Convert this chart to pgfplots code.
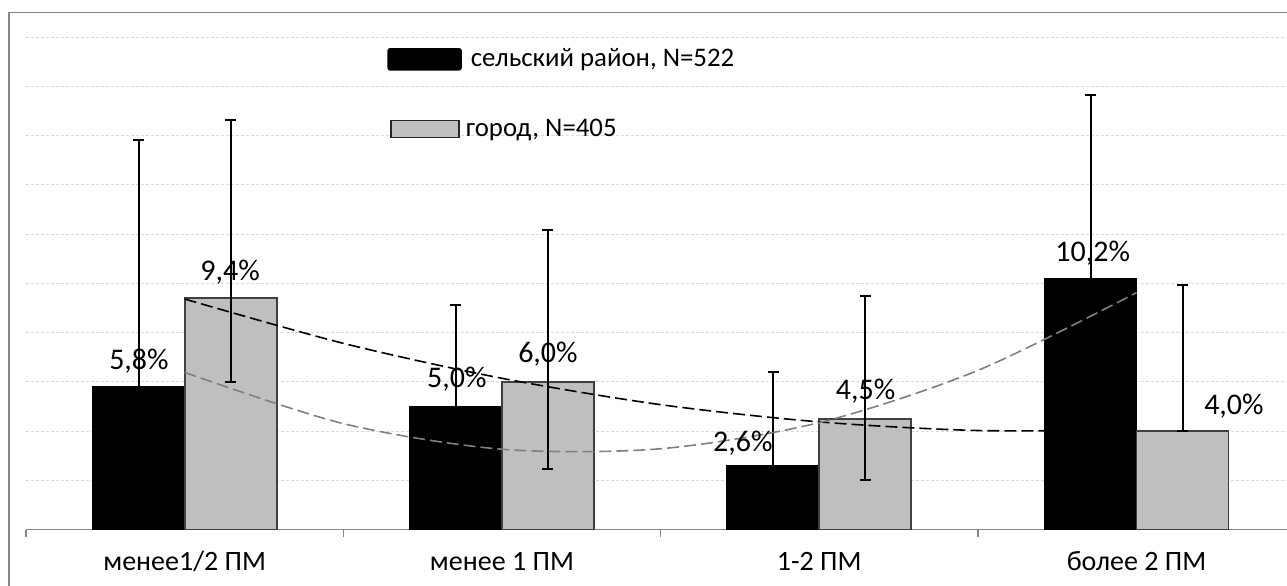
\documentclass[border=0pt]{standalone}
\usepackage{fontspec}
\setmainfont{Carlito}
\usepackage{pgfplots}
\pgfplotsset{compat=1.18}
\usepackage{pgfplotstable}

\definecolor{barGray}{HTML}{BFBFBF}
\definecolor{barEdge}{HTML}{404040}
\definecolor{gridc}{HTML}{D9D9D9}
\definecolor{axisc}{HTML}{868686}
\definecolor{trendGray}{HTML}{808080}

% rural (сельский район): bar x, value, error plus, error minus
\pgfplotstableread{
x y ep em
-0.145 5.8 10.0 3.0
0.855 5.0 4.13 2.5
1.855 2.6 3.81 1.5
2.855 10.2 7.46 4.0
}\rural
% city (город)
\pgfplotstableread{
x y ep em
0.145 9.4 7.22 3.39
1.145 6.0 6.17 3.55
2.145 4.5 4.99 2.49
3.145 4.0 5.93 0
}\city
% value labels (positions as placed in the chart)
\pgfplotstableread{
x y lab
-0.144 6.85 5,8\%
0.143 10.43 9,4\%
0.858 6.12 5,0\%
1.145 7.11 6,0\%
1.759 3.52 2,6\%
2.146 5.62 4,5\%
2.862 11.24 10,2\%
3.307 5.02 4,0\%
}\labels

\begin{document}
\begin{tikzpicture}
\path[use as bounding box] (0pt,0pt) rectangle (643.5pt,292.5pt);
\clip (0pt,0pt) rectangle (643.5pt,292.5pt);
\draw[axisc, line width=0.75pt] (4.5pt,-20pt) -- (4.5pt,286.15pt) -- (700pt,286.15pt);
\begin{axis}[
  at={(13pt,27.75pt)}, anchor=south west,
  scale only axis, width=634.6pt, height=246.25pt,
  xmin=-0.5, xmax=3.5, ymin=0, ymax=20,
  axis x line*=bottom, axis y line*=left,
  x axis line style={axisc, line width=0.75pt},
  y axis line style={draw=none},
  ytick={0,2,...,20}, yticklabels={}, ytick style={draw=none},
  ymajorgrids, grid style={gridc, line width=0.5pt, dash pattern=on 1.5pt off 1pt},
  xtick={0,1,2,3},
  xticklabels={менее1/2 ПМ, менее 1 ПМ, 1-2 ПМ, более 2 ПМ},
  minor xtick={-0.5,0.5,1.5,2.5,3.5},
  major tick length=0pt, minor tick length=3.5pt,
  xtick align=outside, tick pos=lower,
  minor tick style={axisc, line width=0.75pt},
  xticklabel style={anchor=base, yshift=-20.25pt, font=\fontsize{14}{16}\selectfont},
  legend style={at={(axis description cs:0.2844,0.985)}, anchor=north west,
    draw=none, fill=none, font=\fontsize{13.4}{15}\selectfont, row sep=20.5pt,
    inner sep=0pt, cells={anchor=west}},
  legend cell align=left,
  clip=false,
]
\addplot[ybar, bar width=0.29, bar shift=0pt, fill=black, draw=black, line width=0.75pt,
  legend image code/.code={\fill[black, rounded corners=1pt] (0pt,-5.25pt) rectangle (36.5pt,5.25pt);},
  error bars/.cd, y dir=both, y explicit,
  error bar style={line width=1pt, black},
  error mark options={rotate=90, mark size=2.75pt, line width=1pt, black}]
  table[x=x, y=y, y error plus=ep, y error minus=em] {\rural};
\addlegendentry{\hspace{2.5pt}сельский район, N=522}
\addplot[ybar, bar width=0.29, bar shift=0pt, fill=barGray, draw=barEdge, line width=0.9pt,
  legend image code/.code={\draw[fill=barGray, draw=black!85, line width=0.9pt] (1.5pt,-4.25pt) rectangle (35.5pt,4.25pt);},
  error bars/.cd, y dir=both, y explicit,
  error bar style={line width=1pt, black},
  error mark options={rotate=90, mark size=2.75pt, line width=1pt, black}]
  table[x=x, y=y, y error plus=ep, y error minus=em] {\city};
\addlegendentry{город, N=405}
% polynomial trend of the city series (black dashed)
\addplot[forget plot, black, line width=0.8pt, dash pattern=on 6pt off 2.5pt, smooth]
  coordinates {(0,9.36) (0.5,7.56) (1,6.14) (1.5,5.07) (2,4.37) (2.5,4.02) (3,4.05)};
% polynomial trend of the rural series (gray dashed)
\addplot[forget plot, trendGray, line width=0.8pt, dash pattern=on 6pt off 2.5pt, smooth]
  coordinates {(0,6.38) (0.5,4.30) (1,3.26) (1.5,3.28) (2,4.34) (2.5,6.46) (3,9.62)};
% value labels
\addplot[forget plot, draw=none, mark=none, nodes near coords, point meta=explicit symbolic,
  nodes near coords align=center,
  every node near coord/.append style={font=\fontsize{15}{17}\selectfont, inner sep=0pt, text=black}]
  table[x=x, y=y, meta=lab] {\labels};
\end{axis}
\end{tikzpicture}
\end{document}
